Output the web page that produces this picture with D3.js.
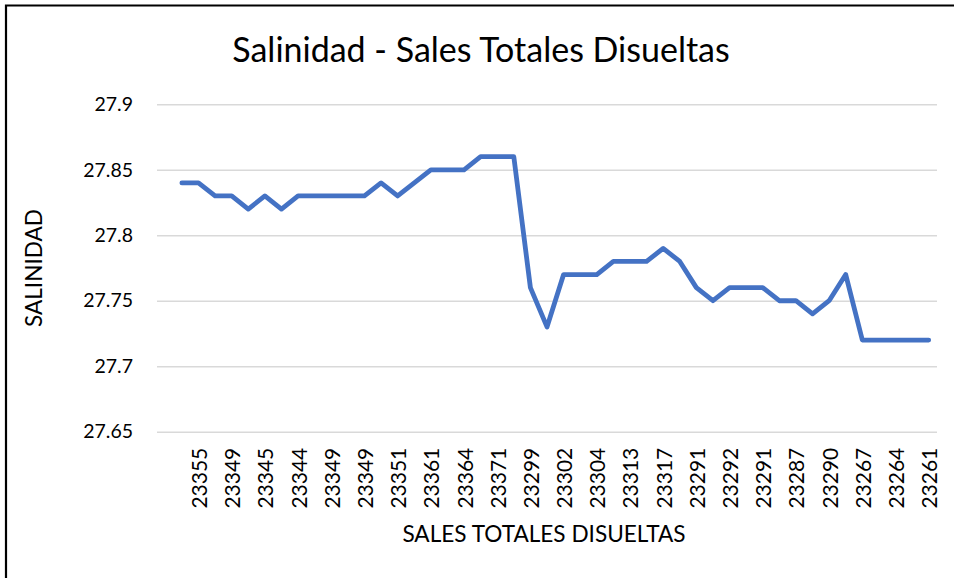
<!DOCTYPE html>
<html>
<head>
<meta charset="utf-8">
<script src="https://cdn.jsdelivr.net/npm/d3@7"></script>
<style>
  html, body { margin: 0; padding: 0; background: #fff; }
  svg { display: block; }
  text { font-family: Lato, "Open Sans", sans-serif; fill: #000; }
</style>
</head>
<body>
<svg id="chart" width="954" height="578"></svg>
<script>
// Salinity readings, one per sample (the first category slot is empty)
const salinity = [
  27.84, 27.84, 27.83, 27.83, 27.82, 27.83, 27.82, 27.83, 27.83, 27.83,
  27.83, 27.83, 27.84, 27.83, 27.84, 27.85, 27.85, 27.85, 27.86, 27.86,
  27.86, 27.76, 27.73, 27.77, 27.77, 27.77, 27.78, 27.78, 27.78, 27.79,
  27.78, 27.76, 27.75, 27.76, 27.76, 27.76, 27.75, 27.75, 27.74, 27.75,
  27.77, 27.72, 27.72, 27.72, 27.72, 27.72
];

// Total dissolved salts labels shown on every second category
const salesLabels = [
  "23355", "23349", "23345", "23344", "23349", "23349", "23351", "23361",
  "23364", "23371", "23299", "23302", "23304", "23313", "23317", "23291",
  "23292", "23291", "23287", "23290", "23267", "23264", "23261"
];

const yTicks = [27.65, 27.7, 27.75, 27.8, 27.85, 27.9];

const title = "Salinidad - Sales Totales Disueltas";
const xTitle = "SALES TOTALES DISUELTAS";
const yTitle = "SALINIDAD";

const svg = d3.select("#chart");
const W = 954, H = 578;
const plot = { left: 157, right: 937, top: 104.3, bottom: 431.7 };

// Category slots: an empty leading slot, then one per reading
const nCat = salinity.length + 1;
const x = d3.scaleBand()
  .domain(d3.range(nCat))
  .range([plot.left, plot.right])
  .paddingInner(0).paddingOuter(0);
const cx = i => x(i) + x.bandwidth() / 2;

const y = d3.scaleLinear()
  .domain([27.65, 27.9])
  .range([plot.bottom, plot.top]);

// Frame
svg.append("path")
  .attr("d", `M6,${H} V5.5 H${W}`)
  .attr("fill", "none")
  .attr("stroke", "#000")
  .attr("stroke-width", 2.2);

// Title
svg.append("text")
  .attr("x", 481)
  .attr("y", 62)
  .attr("text-anchor", "middle")
  .attr("font-size", 34)
  .text(title);

// Horizontal gridlines (the lowest one doubles as the category axis)
const yAxis = d3.axisLeft(y)
  .tickValues(yTicks)
  .tickSize(-(plot.right - plot.left))
  .tickPadding(24)
  .tickFormat(d => String(+d.toFixed(2)));

const gy = svg.append("g")
  .attr("transform", `translate(${plot.left},0)`)
  .call(yAxis);
gy.select(".domain").remove();
gy.selectAll(".tick line")
  .attr("stroke", "#d9d9d9")
  .attr("stroke-width", 1.5);
gy.selectAll(".tick text")
  .attr("font-size", 19.5)
  .attr("font-family", "Lato, sans-serif")
  .attr("fill", "#000");

// Category labels, rotated, on every second slot
const tickIdx = salesLabels.map((_, k) => 2 * (k + 1));
const xAxis = d3.axisBottom(x)
  .tickValues(tickIdx)
  .tickSize(0)
  .tickFormat(i => salesLabels[i / 2 - 1]);

const gx = svg.append("g")
  .attr("transform", `translate(0,${plot.bottom})`)
  .call(xAxis);
gx.select(".domain").remove();
gx.selectAll(".tick text")
  .attr("font-size", 21)
  .attr("font-family", "Lato, sans-serif")
  .attr("fill", "#000")
  .attr("text-anchor", "end")
  .attr("dy", null)
  .attr("dominant-baseline", "central")
  .attr("transform", "translate(0,16) rotate(-90)")
  .attr("x", 0)
  .attr("y", 0);

// Salinity line
const line = d3.line()
  .x((d, i) => cx(i + 1))
  .y(d => y(d));

svg.append("path")
  .datum(salinity)
  .attr("d", line)
  .attr("fill", "none")
  .attr("stroke", "#4472C4")
  .attr("stroke-width", 4.8)
  .attr("stroke-linejoin", "round")
  .attr("stroke-linecap", "round");

// Axis titles
svg.append("text")
  .attr("x", 544)
  .attr("y", 542)
  .attr("text-anchor", "middle")
  .attr("font-size", 22.6)
  .text(xTitle);

svg.append("text")
  .attr("transform", `translate(42,${(plot.top + plot.bottom) / 2}) rotate(-90)`)
  .attr("text-anchor", "middle")
  .attr("font-size", 22.6)
  .text(yTitle);
</script>
</body>
</html>
